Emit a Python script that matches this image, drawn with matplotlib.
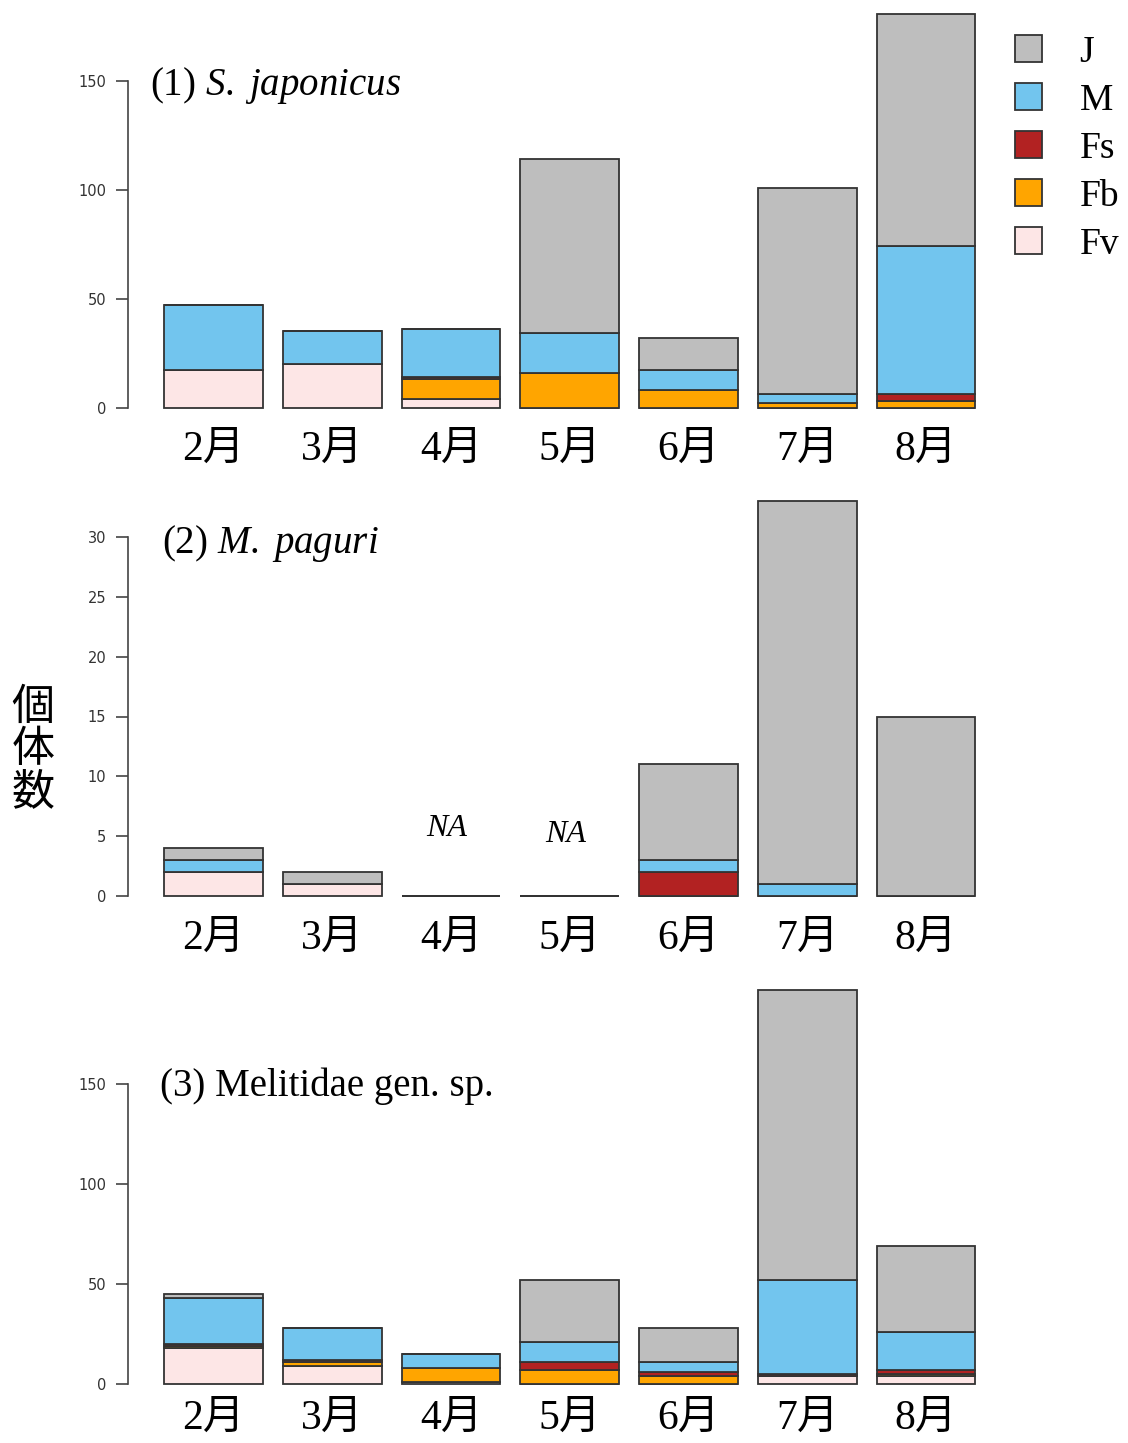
import matplotlib
matplotlib.use("Agg")
import matplotlib.pyplot as plt
from matplotlib.patches import Patch

plt.rcParams['font.family'] = ['Liberation Serif', 'Noto Sans CJK JP']
plt.rcParams['mathtext.fontset'] = 'custom'
plt.rcParams['mathtext.rm'] = 'Liberation Serif'
plt.rcParams['mathtext.it'] = 'Liberation Serif:italic'

# Data
months = ["2月", "3月", "4月", "5月", "6月", "7月", "8月"]
stages = ["J", "M", "Fs", "Fb", "Fv"]
colors = {"J": "#BEBEBE", "M": "#72C5EE", "Fs": "#B22222", "Fb": "#FFA500", "Fv": "#FDE6E6"}

# (1) S. japonicus
sj_fv = [17, 20, 4, 0, 0, 0, 0]
sj_fb = [0, 0, 9, 16, 8, 2, 3]
sj_fs = [0, 0, 1, 0, 0, 0, 3]
sj_m = [30, 15, 22, 18, 9, 4, 68]
sj_j = [0, 0, 0, 80, 15, 95, 107]

# (2) M. paguri  (4月, 5月 = NA)
mp_fv = [2, 1, 0, 0, 0, 0, 0]
mp_fb = [0, 0, 0, 0, 0, 0, 0]
mp_fs = [0, 0, 0, 0, 2, 0, 0]
mp_m = [1, 0, 0, 0, 1, 1, 0]
mp_j = [1, 1, 0, 0, 8, 32, 15]
mp_na = [False, False, True, True, False, False, False]
na_y = [0, 0, 5.6, 5.1, 0, 0, 0]

# (3) Melitidae gen. sp.
me_fv = [18, 9, 1, 0, 0, 4, 4]
me_fb = [1, 2, 7, 7, 4, 0, 1]
me_fs = [1, 1, 0, 4, 2, 1, 2]
me_m = [23, 16, 7, 10, 5, 47, 19]
me_j = [2, 0, 0, 31, 17, 145, 43]

W, H = 1128, 1443
fig = plt.figure(figsize=(W / 100, H / 100), dpi=100)

L_px, R_px = 128, 990
xscale = 98.96
x_left = 0.2 - (164 - L_px) / xscale
x_right = 0.2 + (R_px - 164) / xscale
xpos = [0.7 + 1.2 * i for i in range(len(months))]

panels = [
    dict(data=[sj_fv, sj_fb, sj_fs, sj_m, sj_j], y0=407.5, top_val=150, top_px=81,
         ax_top=3, ax_bot=414, ticks=[0, 50, 100, 150], pad=12,
         title=r"(1) $\mathit{S.\ japonicus}$", tx=150, ty=86),
    dict(data=[mp_fv, mp_fb, mp_fs, mp_m, mp_j], y0=896, top_val=30, top_px=537,
         ax_top=495, ax_bot=903, ticks=[0, 5, 10, 15, 20, 25, 30], pad=12,
         title=r"(2) $\mathit{M.\ paguri}$", tx=162, ty=543),
    dict(data=[me_fv, me_fb, me_fs, me_m, me_j], y0=1384, top_val=150, top_px=1084,
         ax_top=985, ax_bot=1391, ticks=[0, 50, 100, 150], pad=6,
         title="(3) Melitidae gen. sp.", tx=160, ty=1086),
]

for k, p in enumerate(panels):
    s = (p["y0"] - p["top_px"]) / p["top_val"]
    ylo = -(p["ax_bot"] - p["y0"]) / s
    yhi = (p["y0"] - p["ax_top"]) / s
    ax = fig.add_axes([L_px / W, 1 - p["ax_bot"] / H, (R_px - L_px) / W,
                       (p["ax_bot"] - p["ax_top"]) / H])
    ax.set_xlim(x_left, x_right)
    ax.set_ylim(ylo, yhi)

    bottom = [0] * len(months)
    for vals, name in zip(p["data"], ["Fv", "Fb", "Fs", "M", "J"]):
        ax.bar(xpos, vals, width=1, bottom=bottom, color=colors[name],
               edgecolor="#333333", linewidth=1.3)
        bottom = [b + v for b, v in zip(bottom, vals)]
    if k == 1:
        for x, na, ny in zip(xpos, mp_na, na_y):
            if na:
                ax.text(x - 0.04, ny, "NA", ha="center", va="center", fontsize=23,
                        style="italic", family="Liberation Serif")

    for sp in ["top", "right", "bottom"]:
        ax.spines[sp].set_visible(False)
    ax.spines["left"].set_bounds(0, p["top_val"])
    ax.spines["left"].set_color("#444444")
    ax.spines["left"].set_linewidth(1.2)
    ax.set_yticks(p["ticks"])
    ax.set_yticklabels([str(t) for t in p["ticks"]], family="DejaVu Sans",
                       fontsize=10.5, color="#333333")
    ax.tick_params(axis="y", length=8.6, width=1.2, color="#444444", pad=7)
    ax.set_xticks(xpos)
    ax.set_xticklabels(months, fontsize=30)
    ax.tick_params(axis="x", length=0, pad=p["pad"])

    fig.text(p["tx"] / W, 1 - p["ty"] / H, p["title"], fontsize=28,
             ha="left", va="center", family="Liberation Serif")

fig.text(33 / W, 1 - 750 / H, "個\n体\n数", fontsize=31, ha="center", va="center",
         family="Noto Sans CJK JP", linespacing=0.95)

handles = [Patch(facecolor=colors[n], edgecolor="#333333", linewidth=1.3) for n in stages]
fig.legend(handles, stages, loc="upper left", bbox_to_anchor=(1015 / W, 1 - 35 / H),
           frameon=False, fontsize=27, handlelength=0.72, handleheight=0.72,
           labelspacing=0.36, handletextpad=1.0, borderaxespad=0, borderpad=0)

fig.savefig("out.png", dpi=100)
